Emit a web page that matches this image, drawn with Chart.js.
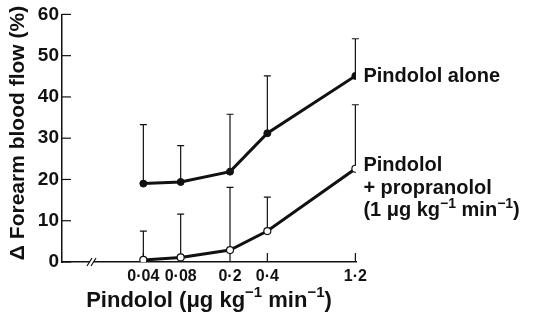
<!DOCTYPE html>
<html>
<head>
<meta charset="utf-8">
<script src="https://cdn.jsdelivr.net/npm/chart.js@4.4.1/dist/chart.umd.min.js"></script>
<style>
  html, body { margin: 0; padding: 0; background: #fff; }
  #wrap { width: 540px; height: 318px; }
</style>
</head>
<body>
<div id="wrap"><canvas id="chart"></canvas></div>
<script>
const doseLabels = ['0·04', '0·08', '0·2', '0·4', '1·2'];
// position of each dose on the original axis (log10 units, 1·2 is drawn further out than true log spacing)
const dosePos = [-1.398, -1.097, -0.699, -0.398, 0.312];
const aloneMean = [19.0, 19.4, 21.9, 31.2, 45.1];
const aloneUpper = [33.3, 28.2, 35.8, 45.1, 54.1];
const propMean = [0.5, 1.1, 2.9, 7.5, 22.6];
const propUpper = [7.5, 11.6, 18.1, 15.7, 38.1];
const yTicks = [0, 10, 20, 30, 40, 50, 60];

const FONT = "'Liberation Sans', Arial, Helvetica, sans-serif";
const INK = '#111';

function pts(ys) {
  return ys.map((y, i) => ({ x: dosePos[i], y: y }));
}

// text with superscript parts, drawn left to right
function richText(ctx, parts, x, y, size) {
  let cx = x;
  parts.forEach(p => {
    const s = p.sup ? Math.round(size * 0.68) : size;
    ctx.font = 'bold ' + s + 'px ' + FONT;
    ctx.fillText(p.t, cx, p.sup ? y - size * 0.35 : y);
    cx += ctx.measureText(p.t).width;
  });
  return cx - x;
}
function richWidth(ctx, parts, size) {
  let w = 0;
  parts.forEach(p => {
    const s = p.sup ? Math.round(size * 0.68) : size;
    ctx.font = 'bold ' + s + 'px ' + FONT;
    w += ctx.measureText(p.t).width;
  });
  return w;
}

const unitParts = [
  { t: 'Pindolol (μg kg' }, { t: '−1', sup: true }, { t: ' min' }, { t: '−1', sup: true }, { t: ')' }
];
const propUnitParts = [
  { t: '(1 μg kg' }, { t: '−1', sup: true }, { t: ' min' }, { t: '−1', sup: true }, { t: ')' }
];

const extras = {
  id: 'extras',
  beforeDatasetsDraw(chart) {
    const ctx = chart.ctx;
    const xs = chart.scales.x, ys = chart.scales.y;
    ctx.save();
    ctx.strokeStyle = INK;
    ctx.lineWidth = 1.2;
    // upward error bars with caps
    [[aloneMean, aloneUpper], [propMean, propUpper]].forEach(([m, u]) => {
      m.forEach((v, i) => {
        const px = xs.getPixelForValue(dosePos[i]);
        const y0 = ys.getPixelForValue(v);
        const y1 = ys.getPixelForValue(u[i]);
        ctx.beginPath();
        ctx.moveTo(px, y0); ctx.lineTo(px, y1);
        ctx.moveTo(px - 3.5, y1); ctx.lineTo(px + 3.5, y1);
        ctx.stroke();
      });
    });
    // inward tick marks
    const base = ys.getPixelForValue(0);
    dosePos.forEach(p => {
      const px = xs.getPixelForValue(p);
      ctx.beginPath(); ctx.moveTo(px, base); ctx.lineTo(px, base - 9); ctx.stroke();
    });
    const left = xs.left;
    yTicks.forEach(t => {
      const py = ys.getPixelForValue(t);
      ctx.beginPath(); ctx.moveTo(left, py); ctx.lineTo(left + 9, py); ctx.stroke();
    });
    // axis break
    const bx = xs.getPixelForValue(-1.812);
    ctx.fillStyle = '#fff';
    ctx.fillRect(bx - 2, base - 2, 4, 4);
    ctx.beginPath();
    ctx.moveTo(bx - 5, base + 4); ctx.lineTo(bx, base - 4);
    ctx.moveTo(bx - 1, base + 4); ctx.lineTo(bx + 4, base - 4);
    ctx.stroke();
    ctx.restore();
  },
  afterDraw(chart) {
    const ctx = chart.ctx;
    const xs = chart.scales.x, ys = chart.scales.y;
    ctx.save();
    ctx.fillStyle = INK;
    ctx.textBaseline = 'middle';
    ctx.textAlign = 'left';
    // series labels at the end of each line
    const lx = xs.getPixelForValue(dosePos[4]) + 8;
    const ay = ys.getPixelForValue(aloneMean[4]);
    ctx.font = 'bold 20px ' + FONT;
    ctx.fillText('Pindolol alone', lx, ay + 1);
    const py = ys.getPixelForValue(propMean[4]);
    ctx.fillText('Pindolol', lx, py - 3);
    ctx.fillText('+ propranolol', lx, py + 20);
    richText(ctx, propUnitParts, lx, py + 42, 20);
    // x title, centred under the plot area
    const w = richWidth(ctx, unitParts, 22);
    const cx = (chart.chartArea.left + chart.chartArea.right) / 2;
    richText(ctx, unitParts, cx - w / 2, 301, 22);
    // y title
    ctx.translate(18, 133);
    ctx.rotate(-Math.PI / 2);
    ctx.textAlign = 'center';
    ctx.font = 'bold 21px ' + FONT;
    ctx.fillText('Δ Forearm blood flow (%)', 0, 0);
    ctx.restore();
  }
};

new Chart(document.getElementById('chart'), {
  type: 'line',
  data: {
    datasets: [{
      label: 'Pindolol alone',
      data: pts(aloneMean),
      borderColor: INK,
      backgroundColor: INK,
      borderWidth: 3,
      pointRadius: 3.5,
      pointBackgroundColor: INK,
      pointBorderColor: INK,
      pointBorderWidth: 1
    }, {
      label: 'Pindolol + propranolol',
      data: pts(propMean),
      borderColor: INK,
      backgroundColor: '#fff',
      borderWidth: 3,
      pointRadius: 3.5,
      pointBackgroundColor: '#fff',
      pointBorderColor: INK,
      pointBorderWidth: 1.2
    }]
  },
  options: {
    responsive: true,
    maintainAspectRatio: false,
    animation: false,
    layout: { padding: { top: 13, right: 184, left: 0, bottom: 0 } },
    plugins: { legend: { display: false }, tooltip: { enabled: false } },
    scales: {
      x: {
        type: 'linear',
        min: -2.054,
        max: 0.317,
        afterBuildTicks: s => { s.ticks = dosePos.map(v => ({ value: v })); },
        afterFit: s => { s.height = 56; },
        grid: { display: false, drawTicks: false, tickLength: 0 },
        border: { display: true, color: INK, width: 1.5 },
        ticks: {
          autoSkip: false,
          maxRotation: 0,
          padding: 5,
          color: INK,
          font: { family: FONT, size: 16, weight: 'bold' },
          callback: (v, i) => doseLabels[i]
        }
      },
      y: {
        min: 0,
        max: 60,
        afterBuildTicks: s => { s.ticks = yTicks.map(v => ({ value: v })); },
        afterFit: s => { s.width = 62; },
        grid: { display: false, drawTicks: false, tickLength: 0 },
        border: { display: true, color: INK, width: 1.5 },
        ticks: {
          padding: 3,
          color: INK,
          font: { family: FONT, size: 19, weight: 'bold' }
        }
      }
    }
  },
  plugins: [extras]
});
</script>
</body>
</html>
